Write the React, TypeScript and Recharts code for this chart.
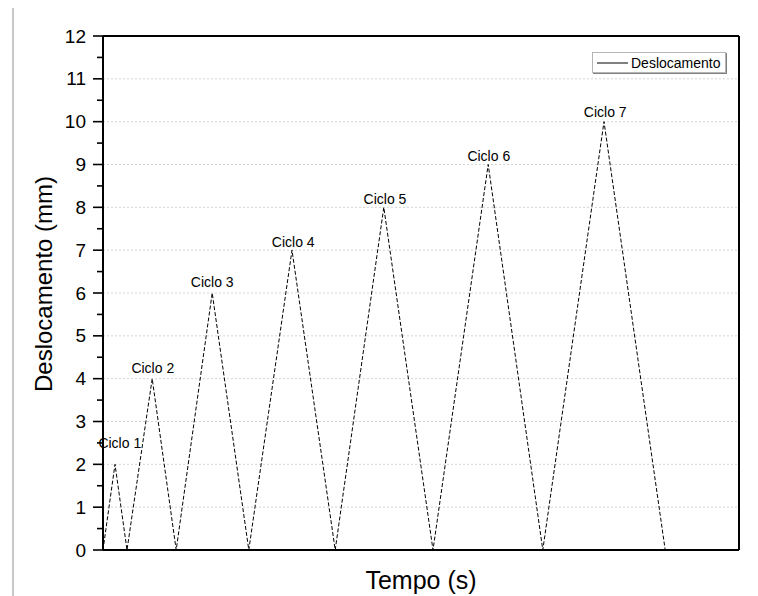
import React from "react";
import {
  LineChart,
  Line,
  XAxis,
  YAxis,
  ReferenceLine,
  ReferenceDot,
  Legend,
} from "recharts";

// time (arbitrary units) and displacement in mm
const timeValues = [0, 2, 4, 8.2, 12.2, 18.2, 24.3, 31.5, 38.7, 46.8, 55, 64.2, 73.3, 83.5, 93.7];
const displacementValues = [0, 2, 0, 4, 0, 6, 0, 7, 0, 8, 0, 9, 0, 10, 0];

const cycleNames = ["Ciclo 1", "Ciclo 2", "Ciclo 3", "Ciclo 4", "Ciclo 5", "Ciclo 6", "Ciclo 7"];
const cycleLabelT = [2.8, 8.3, 18.2, 31.7, 47, 64.3, 83.7];
const cycleLabelY = [2.5, 4.25, 6.26, 7.2, 8.2, 9.2, 10.23];

const yTicks = [0, 0.5, 1, 1.5, 2, 2.5, 3, 3.5, 4, 4.5, 5, 5.5, 6, 6.5, 7, 7.5, 8, 8.5, 9, 9.5, 10, 10.5, 11, 11.5, 12];
const gridValues = [1, 2, 3, 4, 5, 6, 7, 8, 9, 10, 11];

const chartData = timeValues.map((t, i) => ({ t, d: displacementValues[i] }));

const FONT = "'Liberation Sans', Arial, sans-serif";

const LeftTick = (props: any) => {
  const { x, y, payload } = props;
  const v = payload.value;
  const major = Number.isInteger(v);
  return (
    <g>
      <line x1={x} x2={x - (major ? 10 : 6)} y1={y} y2={y} stroke="#000" strokeWidth={1.6} />
      {major && (
        <text x={x - 17} y={y} textAnchor="end" dominantBaseline="central" fontSize={19} fontFamily={FONT} fill="#000">
          {v}
        </text>
      )}
    </g>
  );
};

const RightTick = (props: any) => {
  const { x, y, payload } = props;
  const major = Number.isInteger(payload.value);
  return <line x1={x} x2={x - (major ? 10 : 6)} y1={y} y2={y} stroke="#000" strokeWidth={1.6} />;
};

const LegendBox = () => (
  <div
    style={{
      width: 132,
      height: 19,
      border: "1px solid #b5b5b5",
      boxShadow: "1px 1px 0 #808080",
      background: "#fff",
      display: "flex",
      alignItems: "center",
      fontFamily: FONT,
      fontSize: 14,
      color: "#000",
    }}
  >
    <svg width={36} height={19}>
      <line x1={4} x2={35} y1={10} y2={10} stroke="#000" strokeWidth={1} />
    </svg>
    <span style={{ marginLeft: 2 }}>Deslocamento</span>
  </div>
);

export default function App() {
  return (
    <div style={{ position: "relative", left: -8, top: -8, width: 758, height: 596, background: "#fff" }}>
      <div
        style={{
          position: "absolute",
          left: 12,
          top: 6,
          width: 760,
          height: 600,
          borderLeft: "2px solid #c8c8c8",
          borderTop: "2px solid #c8c8c8",
        }}
      />
      <div style={{ position: "absolute", left: 0, top: 0 }}>
        <LineChart width={758} height={596} data={chartData} margin={{ top: 0, right: 0, bottom: 0, left: 0 }}>
          <XAxis
            xAxisId="bottom"
            dataKey="t"
            type="number"
            domain={[0, 106]}
            height={46}
            tick={false}
            tickLine={false}
            axisLine={{ stroke: "#000", strokeWidth: 2 }}
            label={{
              content: (p: any) => {
                const vb = p.viewBox;
                return (
                  <text x={vb.x + vb.width / 2} y={vb.y + 39} textAnchor="middle" fontSize={25} fontFamily={FONT} fill="#000">
                    Tempo (s)
                  </text>
                );
              },
            }}
          />
          <XAxis
            xAxisId="top"
            orientation="top"
            type="number"
            domain={[0, 106]}
            height={36}
            tick={false}
            tickLine={false}
            axisLine={{ stroke: "#000", strokeWidth: 2 }}
          />
          <YAxis
            yAxisId="left"
            type="number"
            domain={[0, 12]}
            ticks={yTicks}
            interval={0}
            width={103}
            tickSize={0}
            tickMargin={0}
            tickLine={false}
            tick={<LeftTick />}
            axisLine={{ stroke: "#000", strokeWidth: 2 }}
            label={{
              content: (p: any) => {
                const vb = p.viewBox;
                const cy = vb.y + vb.height / 2 - 9;
                return (
                  <text
                    x={43}
                    y={cy}
                    transform={`rotate(-90, 43, ${cy})`}
                    textAnchor="middle"
                    dominantBaseline="central"
                    fontSize={24}
                    fontFamily={FONT}
                    fill="#000"
                  >
                    Deslocamento (mm)
                  </text>
                );
              },
            }}
          />
          <YAxis
            yAxisId="right"
            orientation="right"
            type="number"
            domain={[0, 12]}
            ticks={yTicks}
            interval={0}
            width={19}
            tickSize={0}
            tickMargin={0}
            tickLine={false}
            tick={<RightTick />}
            axisLine={{ stroke: "#000", strokeWidth: 2 }}
          />
          {gridValues.map((v) => (
            <ReferenceLine
              key={v}
              xAxisId="bottom"
              yAxisId="left"
              y={v}
              stroke="#d4d4d4"
              strokeDasharray="2 2"
              strokeWidth={1}
            />
          ))}
          <Legend
            layout="horizontal"
            align="center"
            verticalAlign="middle"
            wrapperStyle={{ left: 592, top: 52, width: 134, height: 21 }}
            content={() => <LegendBox />}
          />
          <Line
            xAxisId="bottom"
            yAxisId="left"
            type="linear"
            dataKey="d"
            name="Deslocamento"
            stroke="#000"
            strokeWidth={1}
            strokeDasharray="4 2"
            dot={false}
            activeDot={false}
            isAnimationActive={false}
          />
          {cycleNames.map((name, i) => (
            <ReferenceDot
              key={name}
              xAxisId="bottom"
              yAxisId="left"
              x={cycleLabelT[i]}
              y={cycleLabelY[i]}
              r={0}
              fill="none"
              stroke="none"
              label={{ value: name, position: "center", fontSize: 14, fontFamily: FONT, fill: "#000" }}
            />
          ))}
        </LineChart>
      </div>
    </div>
  );
}
